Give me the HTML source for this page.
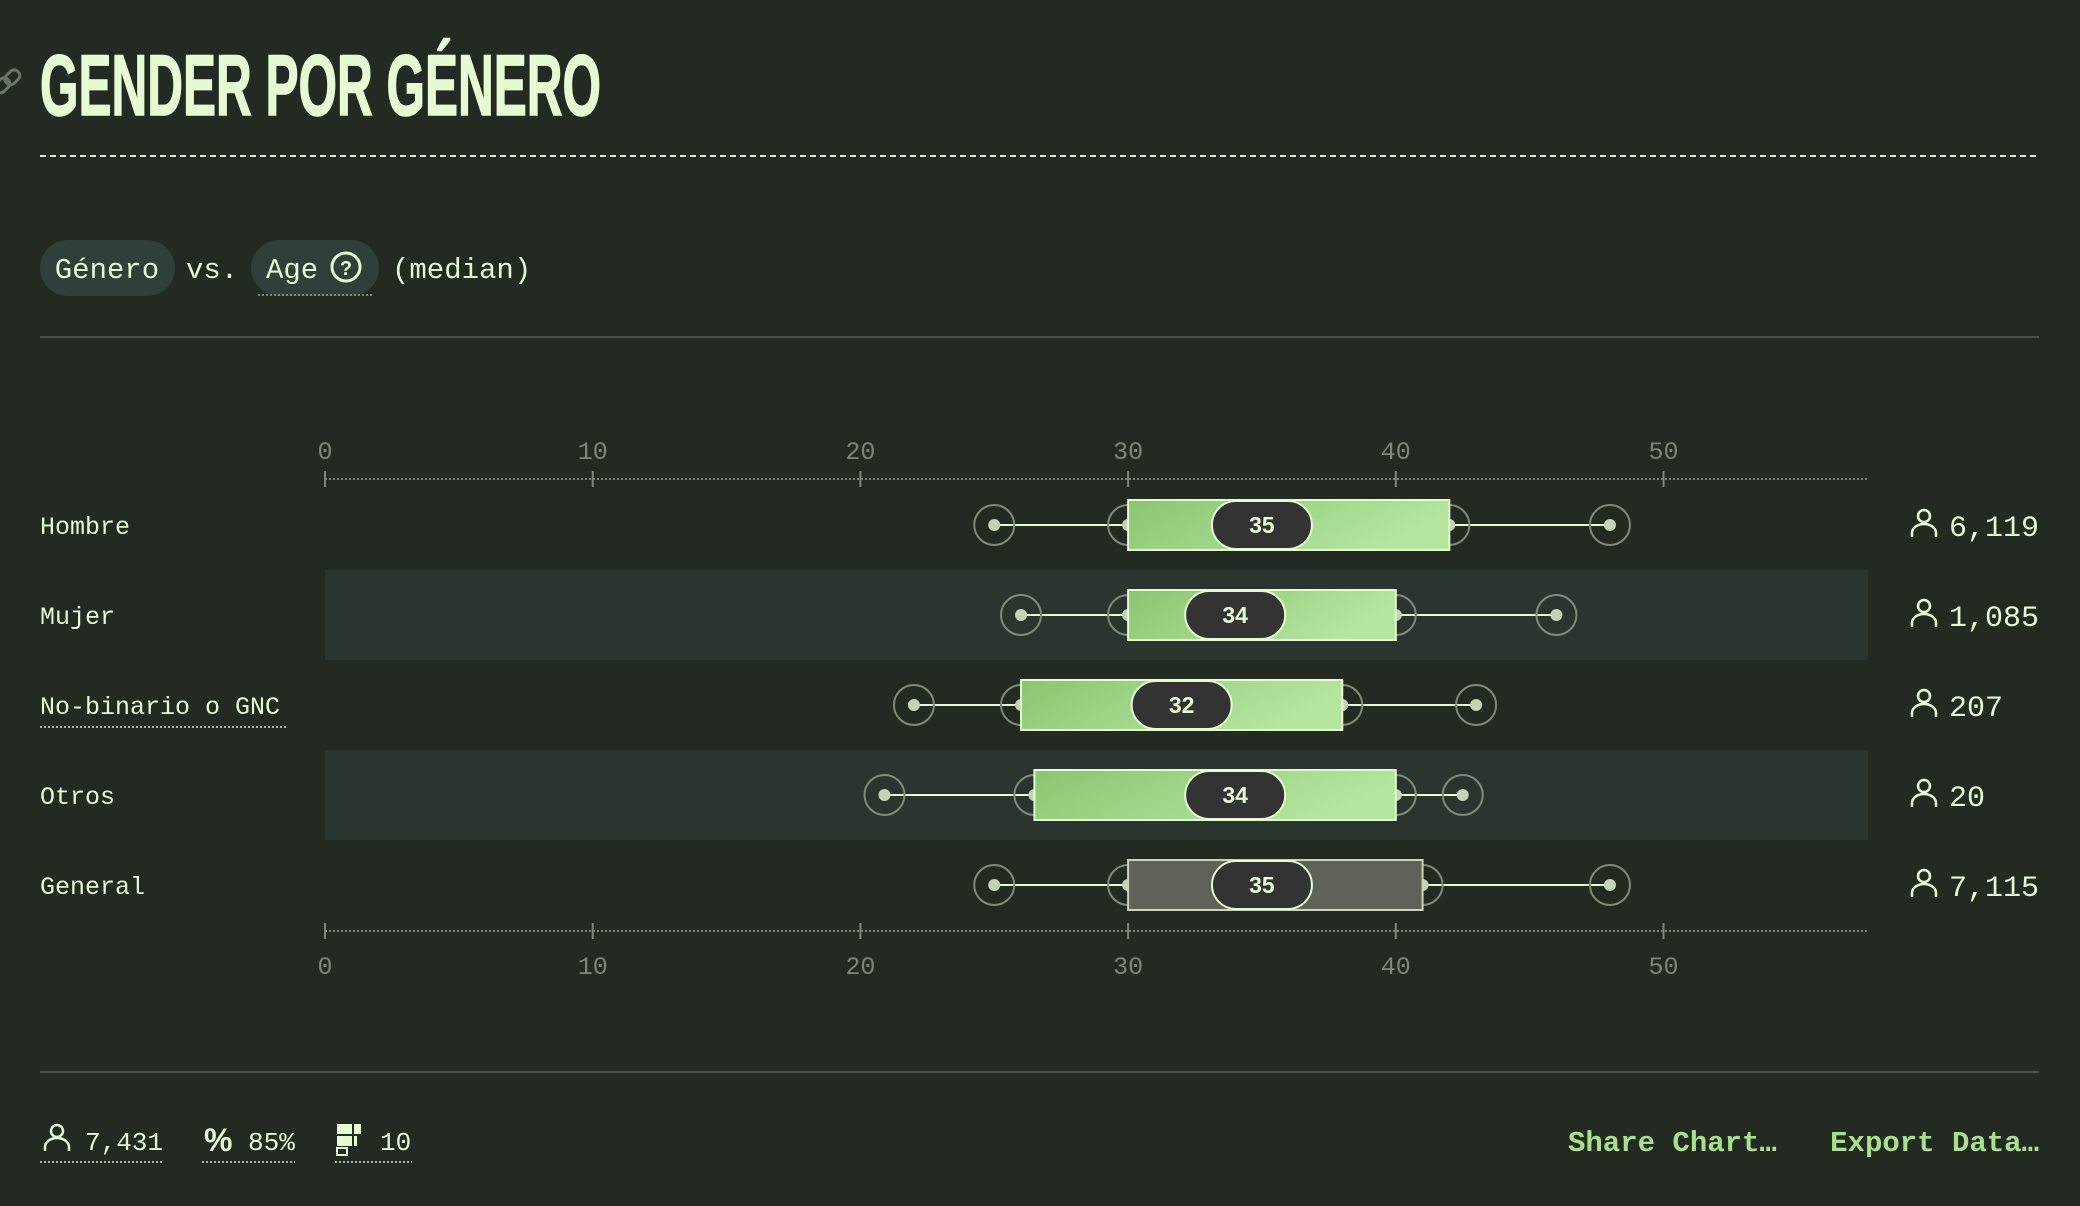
<!DOCTYPE html>
<html><head><meta charset="utf-8">
<style>
html,body{margin:0;padding:0;background:#232a21;}
svg{display:block;}
.mono{font-family:"Liberation Mono","DejaVu Sans Mono",monospace;}
</style></head>
<body>
<svg id="chart" width="2080" height="1206" viewBox="0 0 2080 1206" xmlns="http://www.w3.org/2000/svg">
<defs>
<linearGradient id="boxg" x1="0" y1="0" x2="1" y2="0.3">
<stop offset="0" stop-color="#8bc573"/><stop offset="1" stop-color="#b4e69e"/>
</linearGradient>
</defs>
<rect width="2080" height="1206" fill="#232a21"/>
<g stroke="#6a7565" stroke-width="3" fill="none">
<rect x="-6" y="80" width="16" height="11" rx="5" transform="rotate(-45 2 85)"/>
<rect x="4" y="72" width="16" height="11" rx="5" transform="rotate(-45 12 77)"/>
</g>
<text x="40" y="115" font-family="'Liberation Sans Narrow','Liberation Sans',sans-serif" font-weight="bold" font-size="86" fill="#e6fbd4" stroke="#e6fbd4" stroke-width="1.5" textLength="561" lengthAdjust="spacingAndGlyphs">GENDER POR GÉNERO</text>
<line x1="40" y1="156" x2="2039" y2="156" stroke="#dfe9d6" stroke-width="2" stroke-dasharray="6,4"/>
<rect x="40" y="240" width="135" height="56" rx="28" fill="#2e4039"/>
<text x="107" y="278" text-anchor="middle" class="mono" font-size="29" fill="#e6fbd4">Género</text>
<text x="186" y="278" class="mono" font-size="29" fill="#e6fbd4">vs.</text>
<rect x="251" y="240" width="128" height="56" rx="28" fill="#2e4039"/>
<line x1="258" y1="295" x2="372" y2="295" stroke="#9aa894" stroke-width="1.5" stroke-dasharray="2,2"/>
<text x="266" y="278" class="mono" font-size="29" fill="#e6fbd4">Age</text>
<g>
<circle cx="346" cy="267" r="14" fill="none" stroke="#e6fbd4" stroke-width="3"/>
<text x="346" y="275" text-anchor="middle" font-family="'Liberation Sans',sans-serif" font-weight="bold" font-size="20" fill="#e6fbd4">?</text>
</g>
<text x="392" y="278" class="mono" font-size="29" fill="#e6fbd4">(median)</text>
<line x1="40" y1="337" x2="2039" y2="337" stroke="#4a5446" stroke-width="2"/>
<g id="plot"></g>
<line x1="40" y1="1072" x2="2039" y2="1072" stroke="#4a5446" stroke-width="2"/>
<g>
<circle cx="57" cy="1131" r="6" fill="none" stroke="#e6fbd4" stroke-width="2.5"/>
<path d="M45 1151 v-4 a12 9 0 0 1 24 0 v4" fill="none" stroke="#e6fbd4" stroke-width="2.5"/>
<text x="85" y="1150" class="mono" font-size="26" fill="#e6fbd4">7,431</text>
<line x1="40" y1="1162" x2="163" y2="1162" stroke="#aab5a3" stroke-width="2" stroke-dasharray="2,2"/>
</g>
<g>
<text x="204" y="1151" font-family="'Liberation Sans',sans-serif" font-weight="bold" font-size="32" fill="#e6fbd4">%</text>
<text x="248" y="1150" class="mono" font-size="26" fill="#e6fbd4">85%</text>
<line x1="202" y1="1162" x2="295" y2="1162" stroke="#aab5a3" stroke-width="2" stroke-dasharray="2,2"/>
</g>
<g>
<rect x="337" y="1124" width="24" height="10" fill="#e6fbd4"/>
<rect x="337" y="1136" width="20" height="10" fill="#e6fbd4"/>
<rect x="337" y="1148" width="10" height="7" fill="none" stroke="#e6fbd4" stroke-width="2"/>
<rect x="352" y="1122" width="2" height="35" fill="#232a21"/>
<text x="380" y="1150" class="mono" font-size="26" fill="#e6fbd4">10</text>
<line x1="335" y1="1162" x2="412" y2="1162" stroke="#aab5a3" stroke-width="2" stroke-dasharray="2,2"/>
</g>
<text x="1568" y="1151" class="mono" font-weight="bold" font-size="29" fill="#a8e08e">Share Chart…</text>
<text x="2039" y="1151" text-anchor="end" class="mono" font-weight="bold" font-size="29" fill="#a8e08e">Export Data…</text>
</svg>
<script>
const categories = ["Hombre","Mujer","No-binario o GNC","Otros","General"];
const whiskerLow = [25, 26, 22, 20.9, 25];
const q1 = [30, 30, 26, 26.5, 30];
const medians = [35, 34, 32, 34, 35];
const q3 = [42, 40, 38, 40, 41];
const whiskerHigh = [48, 46, 43, 42.5, 48];
const counts = ["6,119","1,085","207","20","7,115"];
const ticks = [0, 10, 20, 30, 40, 50];

const NS = "http://www.w3.org/2000/svg";
const plot = document.getElementById("plot");
const X0 = 325, X1 = 1868, PX = 26.77;
const xs = v => X0 + v * PX;
const rowY = i => 525 + i * 90;
function el(tag, attrs, parent) {
  const e = document.createElementNS(NS, tag);
  for (const k in attrs) e.setAttribute(k, attrs[k]);
  (parent || plot).appendChild(e);
  return e;
}
categories.forEach((c, i) => {
  if (i % 2 === 1) {
    const b = el("rect", {x: X0, y: rowY(i) - 45, width: X1 - X0, height: 90, fill: "#2b3530"});
    
    
  }
});
[[479, 459, 'top'], [931, 974, 'bottom']].forEach(([ly, ty, pos]) => {
  const ax = el("g", {});
  
  
  el("line", {x1: X0, y1: ly, x2: X1, y2: ly, stroke: "#7d8777", "stroke-width": 2, "stroke-dasharray": "2,2"}, ax);
  ticks.forEach(t => {
    el("line", {x1: xs(t), y1: ly - 8, x2: xs(t), y2: ly + 8, stroke: "#7d8777", "stroke-width": 2}, ax);
    const tx = el("text", {x: xs(t), y: ty, "text-anchor": "middle", "class": "mono", "font-size": 25, fill: "#7d8777"}, ax);
    tx.textContent = t;
    
    
  });
});
categories.forEach((c, i) => {
  const y = rowY(i);
  const g = el("g", {});
  
  
  const lab = el("text", {x: 40, y: y + 9, "class": "mono", "font-size": 25, fill: "#e6fbd4"}, g);
  lab.textContent = c;
  
  
  if (c === "No-binario o GNC") el("line", {x1: 40, y1: y + 22, x2: 286, y2: y + 22, stroke: "#aab5a3", "stroke-width": 2, "stroke-dasharray": "2,2"}, g);
  const isGen = i === categories.length - 1;
  el("line", {x1: xs(whiskerLow[i]), y1: y, x2: xs(whiskerHigh[i]), y2: y, stroke: "#e6fbd4", "stroke-width": 2}, g);
  [whiskerLow[i], q1[i], q3[i], whiskerHigh[i]].forEach(v => {
    const c1 = el("circle", {cx: xs(v), cy: y, r: 20, fill: "none", stroke: "#7f8c78", "stroke-width": 2}, g);
    
    
    el("circle", {cx: xs(v), cy: y, r: 6, fill: "#c3d4b6"}, g);
  });
  const box = el("rect", {x: xs(q1[i]), y: y - 25, width: xs(q3[i]) - xs(q1[i]), height: 50, fill: isGen ? "#5e6359" : "url(#boxg)", stroke: isGen ? "#cbd3c2" : "#e6fbd4", "stroke-width": 2}, g);
  
  
  const pill = el("rect", {x: xs(medians[i]) - 50, y: y - 24, width: 100, height: 48, rx: 24, fill: "#333333", stroke: "#e6fbd4", "stroke-width": 2}, g);
  
  
  const mt = el("text", {x: xs(medians[i]), y: y + 8, "text-anchor": "middle", "font-family": "'Liberation Sans',sans-serif", "font-weight": "bold", "font-size": 23, fill: "#e6fbd4"}, g);
  mt.textContent = medians[i];
  
  
  const icon = el("g", {}, g);
  
  
  el("circle", {cx: 1924, cy: y - 9, r: 6, fill: "none", stroke: "#e6fbd4", "stroke-width": 2.5}, icon);
  el("path", {d: `M1912 ${y + 12} v-4 a12 9 0 0 1 24 0 v4`, fill: "none", stroke: "#e6fbd4", "stroke-width": 2.5}, icon);
  const ct = el("text", {x: 1949, y: y + 11, "class": "mono", "font-size": 30, fill: "#e6fbd4"}, g);
  ct.textContent = counts[i];
  
  
});
</script>
</body></html>
